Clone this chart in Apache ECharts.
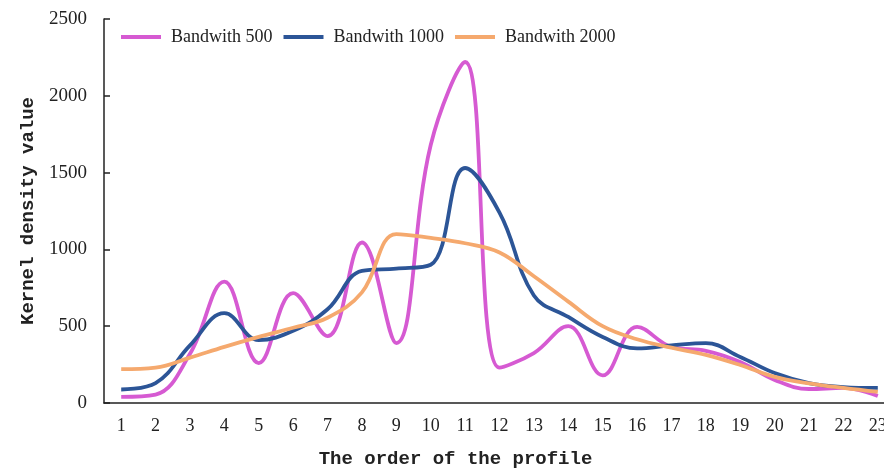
<!DOCTYPE html>
<html>
<head>
<meta charset="utf-8">
<script src="https://cdn.jsdelivr.net/npm/echarts@6/dist/echarts.min.js"></script>
<style>
  html, body { margin: 0; padding: 0; background: #fff; }
  #chart { width: 884px; height: 472px; }
</style>
</head>
<body>
<div id="chart"></div>
<script>
// profile order (x categories)
var categories = ['1','2','3','4','5','6','7','8','9','10','11','12','13','14','15','16','17','18','19','20','21','22','23'];
// kernel density values
var bw500  = [40, 55, 320, 790, 260, 715, 435, 1045, 390, 1680, 2220, 230, 325, 500, 180, 495, 365, 340, 267, 150, 91, 98, 46];
var bw1000 = [88, 130, 375, 585, 410, 470, 610, 860, 875, 900, 1530, 1240, 700, 560, 430, 355, 375, 390, 300, 195, 130, 104, 98];
var bw2000 = [220, 230, 295, 365, 430, 490, 555, 720, 1100, 1075, 1040, 980, 825, 660, 500, 415, 360, 313, 247, 170, 128, 98, 72];
var yTicks = { min: 0, max: 2500, interval: 500 };

var chart = echarts.init(document.getElementById('chart'));

var serif = 'Liberation Serif';
var mono = 'Liberation Mono';

function line(name, data, color) {
    return {
        name: name,
        type: 'line',
        data: data,
        smooth: 0.4,
        symbol: 'none',
        lineStyle: { color: color, width: 3.8 },
        itemStyle: { color: color }
    };
}

var option = {
    animation: false,
    textStyle: { fontFamily: serif },
    legend: {
        left: 116,
        top: 23,
        icon: 'rect',
        itemWidth: 40,
        itemHeight: 4,
        itemGap: 11,
        textStyle: { fontFamily: serif, fontSize: 18, color: '#222', padding: [0, 0, 0, 5] },
        data: ['Bandwith 500', 'Bandwith 1000', 'Bandwith 2000']
    },
    grid: {
        left: 104,
        right: -11,
        top: 19,
        bottom: 69,
        outerBoundsMode: 'none'
    },
    xAxis: {
        type: 'category',
        data: categories,
        boundaryGap: true,
        name: 'The order of the profile',
        nameLocation: 'middle',
        nameGap: 47,
        nameTextStyle: { fontFamily: mono, fontWeight: 'bold', fontSize: 19, color: '#222', padding: [0, 88, 0, 0] },
        axisLine: { lineStyle: { color: '#222', width: 1.5 } },
        axisTick: { inside: true, length: 6, lineStyle: { color: '#222', width: 1.5 } },
        axisLabel: { fontFamily: serif, fontSize: 18, color: '#222', margin: 14 },
        splitLine: { show: false }
    },
    yAxis: {
        type: 'value',
        min: yTicks.min,
        max: yTicks.max,
        interval: yTicks.interval,
        name: 'Kernel density value',
        nameLocation: 'middle',
        nameGap: 66,
        nameTextStyle: { fontFamily: mono, fontWeight: 'bold', fontSize: 19, color: '#222' },
        axisLine: { show: true, lineStyle: { color: '#222', width: 1.5 } },
        axisTick: { show: true, inside: true, length: 6, lineStyle: { color: '#222', width: 1.5 } },
        axisLabel: {
            fontFamily: serif, fontSize: 19, color: '#222', margin: 17,
            formatter: function (v) { return String(v); }
        },
        splitLine: { show: false }
    },
    series: [
        line('Bandwith 500', bw500, '#d65ad2'),
        line('Bandwith 1000', bw1000, '#2c5597'),
        line('Bandwith 2000', bw2000, '#f5a96e')
    ]
};

chart.setOption(option);
</script>
</body>
</html>
